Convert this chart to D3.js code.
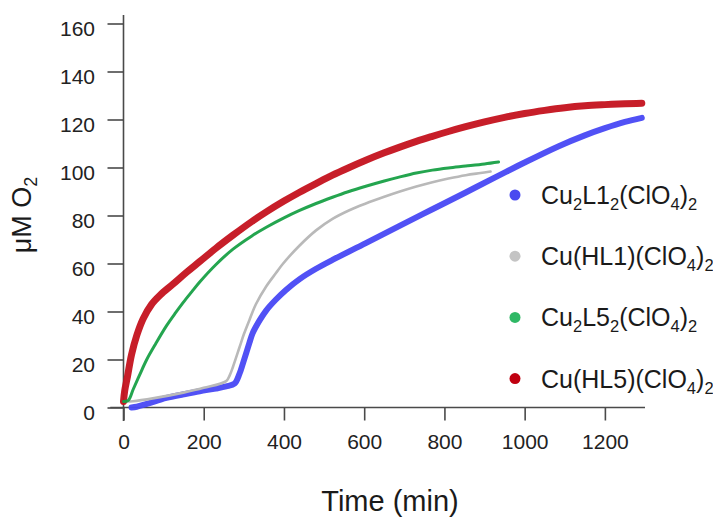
<!DOCTYPE html>
<html>
<head>
<meta charset="utf-8">
<script src="https://cdn.jsdelivr.net/npm/d3@7"></script>
<style>
  html, body { margin: 0; padding: 0; background: #fff; }
  svg { display: block; font-family: "Liberation Sans", Arial, Helvetica, sans-serif; }
</style>
</head>
<body>
<svg id="chart" width="713" height="517"></svg>
<script>
// ---- data (time in min, µM O2) ----
const xTicks = [0, 200, 400, 600, 800, 1000, 1200];
const yTicks = [0, 20, 40, 60, 80, 100, 120, 140, 160];

const cu2L1 = [[20,0],[33,0.3],[60,1.6],[107,4],[150,5.5],[190,6.8],[230,7.9],[256,8.8],[277,10],[289,14],[298,18.5],[314,27],[322,31],[340,36.5],[356,40.5],[380,45],[405,49],[439,53.5],[480,57.8],[521,61.5],[604,68.5],[687,75.6],[770,82.6],[853,89.6],[935,96.6],[1000,102.1],[1085,108.9],[1150,113.4],[1200,116.4],[1250,119],[1292,120.7]];
const cuHL1 = [[0,2.5],[24,2.6],[80,4],[149,6.2],[200,8.2],[256,11],[265,13.5],[273,17],[289,25],[300,30.5],[314,36.5],[330,43],[356,50.5],[380,56],[397,59.8],[439,67.5],[480,73.8],[521,78.6],[563,82.2],[604,85],[650,87.8],[687,89.9],[730,92.1],[770,93.9],[810,95.4],[853,96.8],[890,97.7],[915,98.3]];
const cu2L5 = [[0,2.5],[12,3],[24,7.5],[40,13.5],[58,20],[80,26.5],[107,34],[130,39.5],[149,43.8],[170,48.2],[190,52.3],[230,59.5],[273,66],[320,71.5],[356,75.1],[400,79],[439,82.1],[480,85],[521,87.6],[560,89.9],[604,92.2],[650,94.4],[687,96],[730,97.7],[770,98.9],[810,99.8],[853,100.6],[900,101.5],[935,102.3]];
const cuHL5 = [[0,2.5],[3,7],[10,13],[20,22],[33,30],[49,37],[70,43],[91,46.8],[124,51.5],[157,56.3],[190,60.8],[230,66.3],[273,71.8],[320,77.5],[356,81.5],[400,86],[439,89.7],[480,93.3],[521,96.8],[560,99.8],[604,103],[650,106.1],[687,108.4],[730,110.9],[770,113],[810,115],[853,117],[900,119],[950,120.9],[1000,122.5],[1050,123.8],[1100,124.9],[1150,125.7],[1200,126.2],[1250,126.6],[1292,126.8]];

// legend labels split into [text, isSubscript] parts
const legendParts = [
  [["Cu",0],["2",1],["L1",0],["2",1],["(ClO",0],["4",1],[")",0],["2",1]],
  [["Cu(HL1)(ClO",0],["4",1],[")",0],["2",1]],
  [["Cu",0],["2",1],["L5",0],["2",1],["(ClO",0],["4",1],[")",0],["2",1]],
  [["Cu(HL5)(ClO",0],["4",1],[")",0],["2",1]]
];
const lineColors = ["#4848f4", "#b9b9b9", "#18a046", "#c4121e"];
const dotColors  = ["#4a4af0", "#c4c4c4", "#2fb865", "#c00010"];

// ---- chart ----
const svg = d3.select("#chart");
const x = d3.scaleLinear().domain([0, 1300]).range([123.5, 645]);
const y = d3.scaleLinear().domain([0, 160]).range([407.5, 23.5]);
const axisColor = "#4a4a4a";

// axes lines (cross at origin)
svg.append("line").attr("x1", x(-33)).attr("x2", x(1300)).attr("y1", y(0)).attr("y2", y(0))
  .attr("stroke", axisColor).attr("stroke-width", 1.6);
svg.append("line").attr("x1", x(0)).attr("x2", x(0)).attr("y1", y(-5.6)).attr("y2", y(163.5))
  .attr("stroke", axisColor).attr("stroke-width", 1.6);

const gx = svg.append("g").attr("transform", `translate(0,${y(0)})`)
  .call(d3.axisBottom(x).tickValues(xTicks).tickSize(13).tickPadding(14).tickFormat(d3.format("d")));
const gy = svg.append("g").attr("transform", `translate(${x(0)},0)`)
  .call(d3.axisLeft(y).tickValues(yTicks).tickSize(16).tickPadding(12.5).tickFormat(d3.format("d")));
[gx, gy].forEach(g => {
  g.select(".domain").remove();
  g.selectAll(".tick line").attr("stroke", axisColor).attr("stroke-width", 1.6);
  g.selectAll(".tick text").attr("fill", "#222").style("font-size", "21px")
    .style("font-family", "'Liberation Sans', Arial, sans-serif");
});
gy.selectAll(".tick text").attr("dy", "0.55em");

// lines
const line = d3.line().x(d => x(d[0])).y(d => y(d[1])).curve(d3.curveCatmullRom.alpha(0.5));
const allSeries = [cu2L1, cuHL1, cu2L5, cuHL5];
const widths = [6, 2.6, 3, 7];
const drawOrder = [0, 1, 3, 2];
drawOrder.forEach(i => {
  svg.append("path").datum(allSeries[i]).attr("d", line)
    .attr("fill", "none").attr("stroke", lineColors[i])
    .attr("stroke-width", widths[i]).attr("stroke-linejoin", "round").attr("stroke-linecap", "round")
    .attr("stroke-opacity", i === 1 ? 1 : 0.95);
});

// legend
const lg = svg.append("g");
legendParts.forEach((parts, i) => {
  const cy = 195 + i * 61.2;
  lg.append("circle").attr("cx", 515).attr("cy", cy).attr("r", 5.5).attr("fill", dotColors[i]);
  const t = lg.append("text").attr("x", 541).attr("y", cy + 9)
    .attr("fill", "#1a1a1a").style("font-size", "25px");
  let sub = false;
  parts.forEach(([s, isSub]) => {
    const ts = t.append("tspan").text(s);
    if (isSub && !sub) { ts.attr("dy", 6).style("font-size", "16.5px"); sub = true; }
    else if (isSub && sub) { ts.style("font-size", "16.5px"); }
    else if (!isSub && sub) { ts.attr("dy", -6); sub = false; }
  });
});

// axis titles
svg.append("text").attr("x", 390).attr("y", 511).attr("text-anchor", "middle")
  .attr("fill", "#1a1a1a").style("font-size", "29px").text("Time (min)");
const yl = svg.append("text").attr("transform", "translate(31,215) rotate(-90)")
  .attr("text-anchor", "middle").attr("fill", "#1a1a1a").style("font-size", "27px");
yl.append("tspan").text("\u03BCM O");
yl.append("tspan").text("2").attr("dy", 6).style("font-size", "18px");
</script>
</body>
</html>
